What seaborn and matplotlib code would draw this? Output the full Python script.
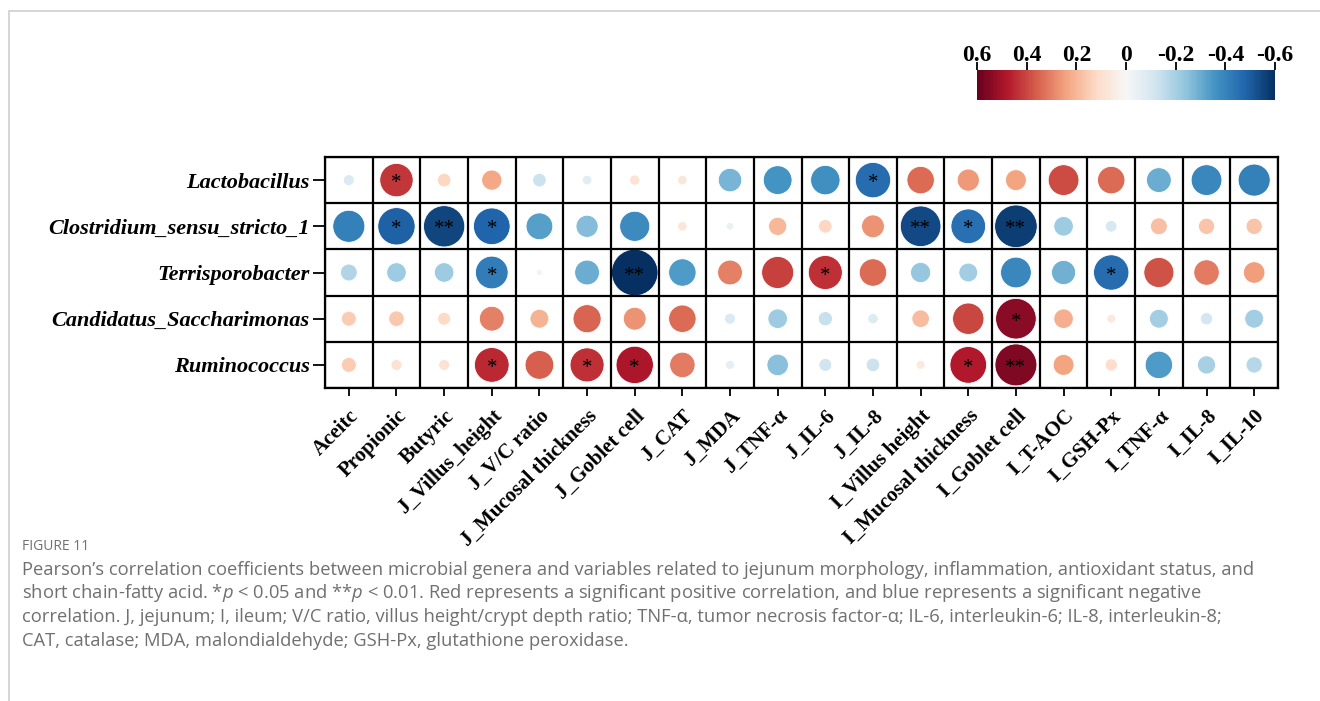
import numpy as np
import pandas as pd
import matplotlib
matplotlib.use("Agg")
import matplotlib.pyplot as plt
from matplotlib.lines import Line2D
from matplotlib.colors import Normalize
from matplotlib.cm import ScalarMappable
import seaborn as sns

# ---- data -------------------------------------------------------------
genera = ["Lactobacillus", "Clostridium_sensu_stricto_1", "Terrisporobacter",
          "Candidatus_Saccharimonas", "Ruminococcus"]

variables = ["Aceitc", "Propionic", "Butyric", "J_Villus_height", "J_V/C ratio",
             "J_Mucosal thickness", "J_Goblet cell", "J_CAT", "J_MDA", "J_TNF-α",
             "J_IL-6", "J_IL-8", "I_Villus height", "I_Mucosal thickness",
             "I_Goblet cell", "I_T-AOC", "I_GSH-Px", "I_TNF-α", "I_IL-8", "I_IL-10"]

r_lactobacillus = [-0.09, 0.43, 0.13, 0.23, -0.13, -0.07, 0.08, 0.07, -0.28, -0.36,
                   -0.37, -0.46, 0.34, 0.26, 0.24, 0.39, 0.34, -0.30, -0.39, -0.41]
r_clostridium = [-0.41, -0.49, -0.55, -0.48, -0.33, -0.26, -0.38, 0.07, -0.04, 0.20,
                 0.13, 0.27, -0.54, -0.45, -0.57, -0.22, -0.10, 0.18, 0.17, 0.17]
r_terrisporobacter = [-0.18, -0.22, -0.22, -0.42, 0.02, -0.30, -0.63, -0.34, 0.30, 0.41,
                      0.44, 0.34, -0.23, -0.21, -0.39, -0.29, -0.46, 0.38, 0.31, 0.25]
r_candidatus = [0.15, 0.16, 0.12, 0.30, 0.21, 0.35, 0.27, 0.34, -0.09, -0.22,
                -0.14, -0.08, 0.19, 0.40, 0.54, 0.22, 0.06, -0.21, -0.11, -0.21]
r_ruminococcus = [0.15, 0.09, 0.09, 0.45, 0.36, 0.44, 0.49, 0.31, -0.06, -0.25,
                  -0.12, -0.13, 0.06, 0.48, 0.56, 0.24, 0.11, -0.34, -0.20, -0.17]

sig_lactobacillus = ["", "*", "", "", "", "", "", "", "", "",
                     "", "*", "", "", "", "", "", "", "", ""]
sig_clostridium = ["", "*", "**", "*", "", "", "", "", "", "",
                   "", "", "**", "*", "**", "", "", "", "", ""]
sig_terrisporobacter = ["", "", "", "*", "", "", "**", "", "", "",
                        "*", "", "", "", "", "", "*", "", "", ""]
sig_candidatus = ["", "", "", "", "", "", "", "", "", "",
                  "", "", "", "", "*", "", "", "", "", ""]
sig_ruminococcus = ["", "", "", "*", "", "*", "*", "", "", "",
                    "", "", "", "*", "**", "", "", "", "", ""]

colorbar_ticks = [0.6, 0.4, 0.2, 0, -0.2, -0.4, -0.6]
colorbar_labels = ["0.6", "0.4", "0.2", "0", "-0.2", "-0.4", "-0.6"]

caption_title = "FIGURE 11"
caption_lines = [
    "Pearson’s correlation coefficients between microbial genera and variables related to jejunum morphology, inflammation, antioxidant status, and",
    "short chain-fatty acid. *$p$ < 0.05 and **$p$ < 0.01. Red represents a significant positive correlation, and blue represents a significant negative",
    "correlation. J, jejunum; I, ileum; V/C ratio, villus height/crypt depth ratio; TNF-α, tumor necrosis factor-α; IL-6, interleukin-6; IL-8, interleukin-8;",
    "CAT, catalase; MDA, malondialdehyde; GSH-Px, glutathione peroxidase.",
]

# ---- long table ---------------------------------------------------------
r_rows = [r_lactobacillus, r_clostridium, r_terrisporobacter, r_candidatus, r_ruminococcus]
sig_rows = [sig_lactobacillus, sig_clostridium, sig_terrisporobacter, sig_candidatus, sig_ruminococcus]
records = []
for g, rr, ss in zip(genera, r_rows, sig_rows):
    for v, r, s in zip(variables, rr, ss):
        records.append({"genus": g, "variable": v, "r": r, "sig": s})
df = pd.DataFrame(records)

# ---- style -------------------------------------------------------------
sns.set_theme(style="white")
plt.rcParams["font.family"] = ["Liberation Serif", "DejaVu Serif"]
plt.rcParams["mathtext.fontset"] = "custom"
plt.rcParams["mathtext.rm"] = "Open Sans"
plt.rcParams["mathtext.it"] = "Open Sans:italic"

W, H = 1320, 701
fig = plt.figure(figsize=(W / 100, H / 100), dpi=100)
fig.patch.set_facecolor("white")

ax = fig.add_axes([325 / W, 1 - 388 / H, 953 / W, 231 / H])

vmin, vmax = -0.6, 0.6
cmap = "RdBu_r"
# circle diameter grows linearly with |r| (in pixels -> points^2)
area = ((5 + 66 * df["r"].abs()) * 0.72) ** 2

sns.scatterplot(data=df, x="variable", y="genus", hue="r", palette=cmap,
                hue_norm=(vmin, vmax), s=area, edgecolor="white", linewidth=0.6,
                legend=False, ax=ax, zorder=3)

# significance marks
xi = {v: i for i, v in enumerate(variables)}
yi = {g: i for i, g in enumerate(genera)}
for _, row in df[df["sig"] != ""].iterrows():
    ax.text(xi[row["variable"]], yi[row["genus"]] + 0.08, row["sig"],
            ha="center", va="center", fontsize=15, color="black", zorder=5)

# cell grid
for k in range(len(variables) + 1):
    ax.axvline(k - 0.5, color="black", lw=1.6, zorder=4)
for k in range(len(genera) + 1):
    ax.axhline(k - 0.5, color="black", lw=1.6, zorder=4)

ax.set_xlim(-0.5, len(variables) - 0.5)
ax.set_ylim(len(genera) - 0.5, -0.5)
ax.set_xlabel("")
ax.set_ylabel("")
for sp in ax.spines.values():
    sp.set_linewidth(1.6)
    sp.set_color("black")

ax.set_xticks(range(len(variables)))
ax.set_xticklabels(variables, rotation=45, ha="right", va="top",
                   rotation_mode="anchor", fontweight="bold", fontsize=15)
ax.set_yticks(range(len(genera)))
ax.set_yticklabels(genera, fontweight="bold", fontstyle="italic", fontsize=16)
ax.tick_params(axis="x", bottom=True, length=6, width=1.3, color="black",
               pad=7, labelcolor="black")
ax.tick_params(axis="y", left=True, length=9, width=1.3, color="black",
               pad=2, labelcolor="black")

# colour bar
cax = fig.add_axes([977 / W, 1 - 100 / H, 298 / W, 30 / H])
sm = ScalarMappable(norm=Normalize(vmin, vmax), cmap=cmap)
cb = fig.colorbar(sm, cax=cax, orientation="horizontal")
cb.outline.set_visible(False)
cax.invert_xaxis()
cb.set_ticks(colorbar_ticks)
cb.set_ticklabels(colorbar_labels)
cax.xaxis.set_ticks_position("top")
cax.xaxis.set_label_position("top")
cax.tick_params(axis="x", top=True, bottom=False, length=6, width=1.3,
                color="black", pad=-3, labelsize=17, labelcolor="black")
for lab in cax.get_xticklabels():
    lab.set_fontweight("bold")

# page frame
fig.add_artist(Line2D([9 / W, 1], [1 - 11 / H, 1 - 11 / H], color="#cfcfcf",
                      lw=1.2, transform=fig.transFigure))
fig.add_artist(Line2D([9 / W, 9 / W], [0, 1 - 11 / H], color="#cfcfcf",
                      lw=1.2, transform=fig.transFigure))

# caption
cap_color = "#707070"
fig.text(22 / W, 1 - 546 / H, caption_title, family="Open Sans", fontsize=10,
         color=cap_color, va="center", ha="left")
for i, line in enumerate(caption_lines):
    fig.text(22 / W, 1 - (570 + 23.5 * i) / H, line, family="Open Sans",
             fontsize=13.2, color=cap_color, va="center", ha="left")

fig.savefig("out.png", dpi=100, facecolor="white")
